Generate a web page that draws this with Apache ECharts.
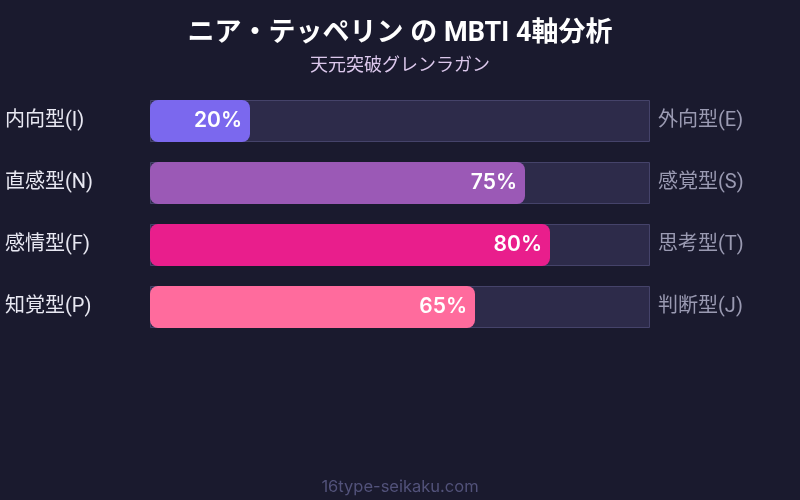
<!DOCTYPE html>
<html><head><meta charset="utf-8">
<script src="https://cdn.jsdelivr.net/npm/echarts@6/dist/echarts.min.js"></script>
<style>html,body{margin:0;padding:0;background:#1a1a2e;}#c{width:800px;height:500px;}</style>
</head><body><div id="c"></div>
<script>
const leftLabels = ['内向型(I)', '直感型(N)', '感情型(F)', '知覚型(P)'];
const rightLabels = ['外向型(E)', '感覚型(S)', '思考型(T)', '判断型(J)'];
const values = [20, 75, 80, 65];
const barColors = ['#7b68ee', '#9b59b6', '#e91e8c', '#ff6b9d'];
const trackValues = [100, 100, 100, 100];
const titleText = 'ニア・テッペリン の MBTI 4軸分析';
const subtitleText = '天元突破グレンラガン';
const footerText = '16type-seikaku.com';

const FONT = "Roboto, 'Noto Sans CJK JP', sans-serif";
const FONT2 = "Inter, 'Noto Sans CJK JP', sans-serif";
const chart = echarts.init(document.getElementById('c'), null, {renderer: 'canvas'});
chart.setOption({
  backgroundColor: '#1a1a2e',
  animation: false,
  textStyle: {fontFamily: FONT},
  title: [
    {text: titleText, left: 'center', top: 16, textStyle: {color: '#ffffff', fontSize: 27, fontWeight: 'bold', fontFamily: FONT}},
    {text: subtitleText, left: 'center', top: 53, textStyle: {color: '#dcc8ec', fontSize: 18, fontWeight: 'normal', fontFamily: FONT}},
    {text: footerText, left: 'center', top: 474, textStyle: {color: '#52527a', fontSize: 16.5, fontWeight: 'normal', fontFamily: FONT2}}
  ],
  grid: {left: 150, right: 150, top: 90, height: 248},
  xAxis: {type: 'value', min: 0, max: 100, show: false},
  yAxis: [
    {type: 'category', data: leftLabels, inverse: true, position: 'left',
     axisLine: {show: false}, axisTick: {show: false},
     axisLabel: {color: '#e8e8f2', fontSize: 20, align: 'left', margin: 145, fontFamily: FONT}},
    {type: 'category', data: rightLabels, inverse: true, position: 'right',
     axisLine: {show: false}, axisTick: {show: false},
     axisLabel: {color: '#9a9ab2', fontSize: 20, align: 'left', margin: 8, fontFamily: FONT}}
  ],
  series: [
    {type: 'bar', yAxisIndex: 0, data: trackValues, barWidth: 42, silent: true,
     itemStyle: {color: '#2d2b4a', borderColor: '#45436a', borderWidth: 1}},
    {type: 'bar', yAxisIndex: 0, barGap: '-100%', barWidth: 42,
     data: values.map((v, i) => ({value: v, itemStyle: {color: barColors[i]}})),
     itemStyle: {borderRadius: 8},
     label: {show: true, position: 'insideRight', distance: 8, formatter: '{c}%',
             color: '#ffffff', fontSize: 21, fontWeight: 600, fontFamily: FONT2}}
  ]
});
</script></body></html>
